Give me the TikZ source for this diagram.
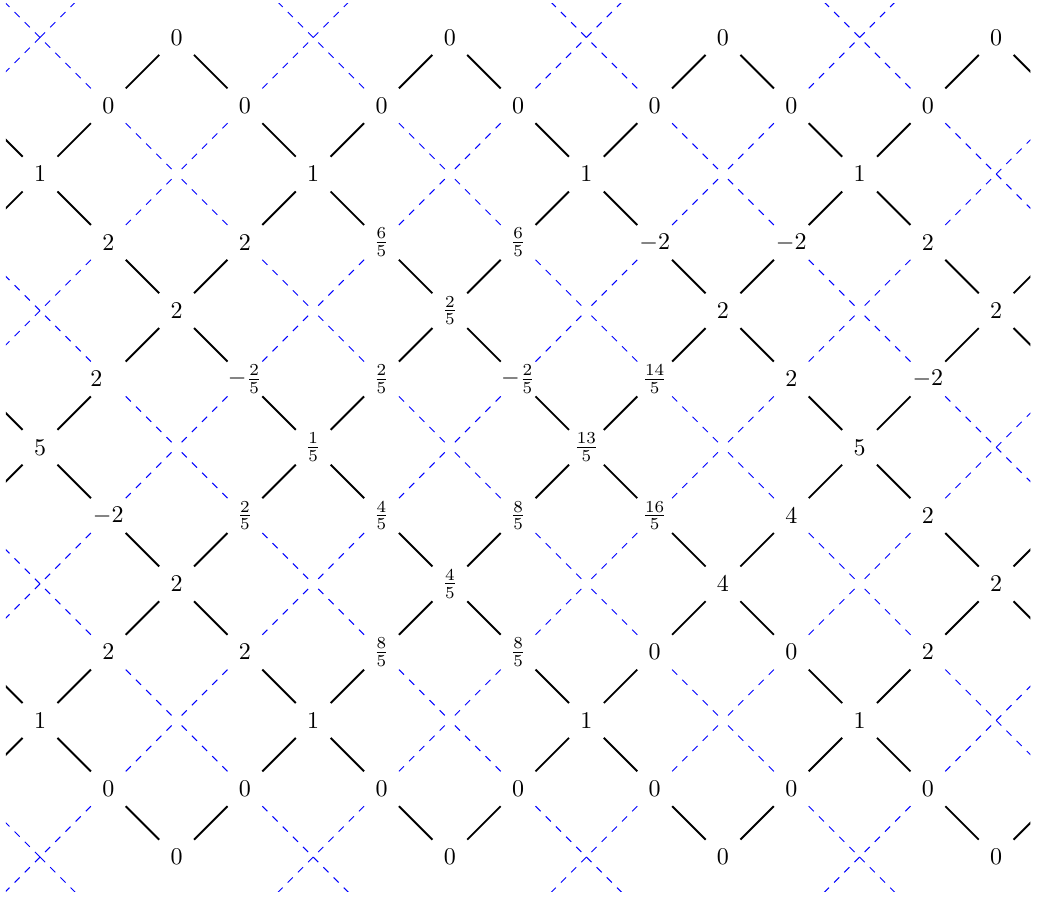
\documentclass[tikz,border=0pt]{standalone}
\usepackage{amsmath}
\begin{document}
\begin{tikzpicture}[
  num/.style={circle, minimum size=0.7071cm, inner sep=0pt},
  link/.style={thick},
  guide/.style={blue, dashed},
]
\useasboundingbox (0.414,-0.451) rectangle (15.671,-13.643);
\clip (0.5,-0.5) rectangle (15.5,-13.5);

% frame points and holes of the lattice
\foreach \I in {0,...,16} {
  \foreach \R in {0,...,14} {
    \coordinate (n-\I-\R) at (\I,-\R);
  }
}

% entries, row by row: row / first column / column gap / values
\foreach \R/\first/\gap/\vals in {
  1/3/4/{0,0,0,0},
  2/2/2/{0,0,0,0,0,0,0},
  3/1/4/{1,1,1,1},
  4/2/2/{2,2,\frac65,\frac65,-2,-2,2},
  5/3/4/{2,\frac25,2,2},
  6/2/2/{2\quad,-\frac25,\frac25,-\frac25,\frac{14}5,2,-2},
  7/1/4/{5,\frac15,\frac{13}5,5},
  8/2/2/{-2,\frac25,\frac45,\frac85,\frac{16}5,4,2},
  9/3/4/{2,\frac45,4,2},
  10/2/2/{2,2,\frac85,\frac85,0,0,2},
  11/1/4/{1,1,1,1},
  12/2/2/{0,0,0,0,0,0,0},
  13/3/4/{0,0,0,0}} {
  \foreach \val [count=\k from 0] in \vals {
    \pgfmathtruncatemacro\I{\first+\gap*\k}
    \node[num] (n-\I-\R) at (\I,-\R) {$\val$};
  }
}

% solid links between neighbouring entries
\foreach \R in {1,...,12} {
  \pgfmathtruncatemacro\nR{\R+1}
  \foreach \I in {0,...,16} {
    \pgfmathtruncatemacro\rI{\I+1}
    \pgfmathtruncatemacro\lI{\I-1}
    \pgfmathtruncatemacro\down{(mod(\I-\R+40,4)==2) && (\I<16)}
    \pgfmathtruncatemacro\up{(mod(\I+\R,4)==0) && (\I>0)}
    \ifnum\down=1 \draw[link] (n-\I-\R) -- (n-\rI-\nR); \fi
    \ifnum\up=1 \draw[link] (n-\I-\R) -- (n-\lI-\nR); \fi
  }
}

% dashed lines through the holes
\foreach \R in {1,3,...,13} {
  \foreach \I in {1,...,15} {
    \pgfmathtruncatemacro\hole{mod(\I-\R+40,4)==0}
    \ifnum\hole=1
      \foreach \dI/\dR in {-1/-1,1/-1,-1/1,1/1} {
        \pgfmathtruncatemacro\aI{\I+\dI}
        \pgfmathtruncatemacro\aR{\R+\dR}
        \pgfmathtruncatemacro\inside{(\aI>0) && (\aI<16) && (\aR>0) && (\aR<14)}
        \ifnum\inside=1
          \draw[guide] (n-\aI-\aR) -- (n-\I-\R);
        \else
          \draw[guide] (n-\I-\R) -- (n-\aI-\aR);
        \fi
      }
    \fi
  }
}
\end{tikzpicture}
\end{document}
